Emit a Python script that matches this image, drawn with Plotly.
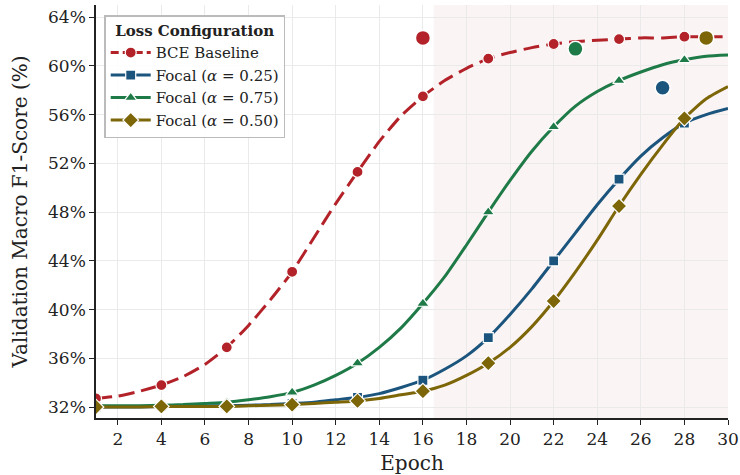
import plotly.graph_objects as go

epochs = list(range(1, 31))
bce = [32.7, 32.9, 33.3, 33.8, 34.5, 35.5, 36.9, 38.7, 40.8, 43.1, 45.9, 48.7, 51.3, 53.8, 55.9,
       57.5, 58.8, 59.8, 60.6, 61.1, 61.5, 61.8, 62.0, 62.1, 62.2, 62.3, 62.3, 62.4, 62.4, 62.4]
focal_025 = [32.0, 32.0, 32.0, 32.05, 32.05, 32.1, 32.1, 32.15, 32.2, 32.3, 32.4, 32.6, 32.8, 33.1, 33.6,
             34.2, 35.1, 36.2, 37.7, 39.6, 41.7, 44.0, 46.3, 48.6, 50.7, 52.6, 54.1, 55.3, 56.0, 56.5]
focal_075 = [32.1, 32.1, 32.1, 32.15, 32.2, 32.3, 32.4, 32.6, 32.85, 33.2, 33.8, 34.6, 35.6, 36.9, 38.5,
             40.5, 42.7, 45.3, 48.0, 50.6, 53.0, 55.0, 56.7, 57.9, 58.8, 59.5, 60.1, 60.5, 60.8, 60.9]
focal_050 = [32.0, 32.0, 32.0, 32.05, 32.05, 32.05, 32.05, 32.1, 32.15, 32.2, 32.3, 32.4, 32.5, 32.7, 33.0,
             33.3, 33.8, 34.6, 35.6, 36.9, 38.6, 40.7, 43.1, 45.7, 48.5, 51.1, 53.5, 55.7, 57.3, 58.3]

series_names = ["BCE Baseline", "Focal (<i>α</i> = 0.25)", "Focal (<i>α</i> = 0.75)", "Focal (<i>α</i> = 0.50)"]
series_values = [bce, focal_025, focal_075, focal_050]
colors = ["#B22228", "#1B557D", "#1E7A47", "#7D6608"]
symbols = ["circle", "square", "triangle-up", "diamond"]
msizes = [11, 10, 11, 12]
dashes = ["16px,7px", "solid", "solid", "solid"]

# best epoch per series (same order as series_names)
best_epochs = [16, 27, 23, 29]
best_values = [62.3, 58.2, 61.4, 62.3]

x_ticks = list(range(2, 31, 2))
y_ticks = list(range(32, 65, 4))
y_tick_labels = [f"{v}%" for v in y_ticks]
shade_start = 16.5

mark_every = 3
font = "DejaVu Serif"

fig = go.Figure()

fig.add_shape(type="rect", xref="x", yref="paper", x0=shade_start, x1=30, y0=0, y1=1,
              fillcolor="rgba(178,34,40,0.05)", line_width=0, layer="below")

for i, (name, vals, c, s, ms, d) in enumerate(zip(series_names, series_values, colors, symbols, msizes, dashes)):
    fig.add_trace(go.Scatter(x=epochs, y=vals, mode="lines",
                             line=dict(color=c, width=3, dash=d, shape="spline", smoothing=0.6),
                             showlegend=False, hoverinfo="skip"))
    mx = epochs[::mark_every]
    my = vals[::mark_every]
    fig.add_trace(go.Scatter(x=mx, y=my, mode="markers",
                             marker=dict(color=c, symbol=s, size=ms, line=dict(color="white", width=1.2)),
                             showlegend=False))
    fig.add_trace(go.Scatter(x=[None], y=[None], mode="lines+markers", name=name, legendgroup=f"g{i}",
                             line=dict(color=c, width=3, dash=d if d == "solid" else "8px,4px"),
                             marker=dict(color=c, symbol=s, size=ms, line=dict(color="white", width=1.2))))

for be, bv, c in zip(best_epochs, best_values, colors):
    fig.add_trace(go.Scatter(x=[be], y=[bv], mode="markers", showlegend=False,
                             marker=dict(color=c, size=15, line=dict(color="white", width=1.5))))

fig.update_layout(
    width=740, height=475,
    margin=dict(l=96, r=12, t=5, b=57, autoexpand=False),
    plot_bgcolor="white", paper_bgcolor="white",
    font=dict(family=font, size=17, color="#222"),
    legend=dict(x=0.013, y=0.975, xanchor="left", yanchor="top",
                bgcolor="rgba(255,255,255,0.9)", bordercolor="#BBBBBB", borderwidth=1.5,
                font=dict(family=font, size=15, color="#222"),
                title=dict(text="<b>Loss Configuration</b>", side="top center", font=dict(family=font, size=15)),
                itemwidth=40, tracegroupgap=0, traceorder="grouped"),
)
fig.update_xaxes(range=[1, 30], tickvals=x_ticks, showgrid=True, gridcolor="#EAEAEA", gridwidth=1,
                 showline=True, linecolor="#222", linewidth=1.5, ticks="outside", ticklen=5, tickcolor="#222",
                 zeroline=False, automargin=False,
                 title=dict(text="Epoch", font=dict(size=20), standoff=19),
                 tickfont=dict(size=17))
fig.update_yaxes(range=[31.1, 65.0], tickvals=y_ticks, ticktext=y_tick_labels, showgrid=True, gridcolor="#EAEAEA",
                 gridwidth=1, showline=True, linecolor="#222", linewidth=1.5, ticks="outside", ticklen=5,
                 tickcolor="#222", zeroline=False, automargin=False,
                 title=dict(text="Validation Macro F1-Score (%)", font=dict(size=20), standoff=15),
                 tickfont=dict(size=17))

fig.write_html("out.html", post_script="document.body.style.margin='0';",
               config={"displayModeBar": False})
